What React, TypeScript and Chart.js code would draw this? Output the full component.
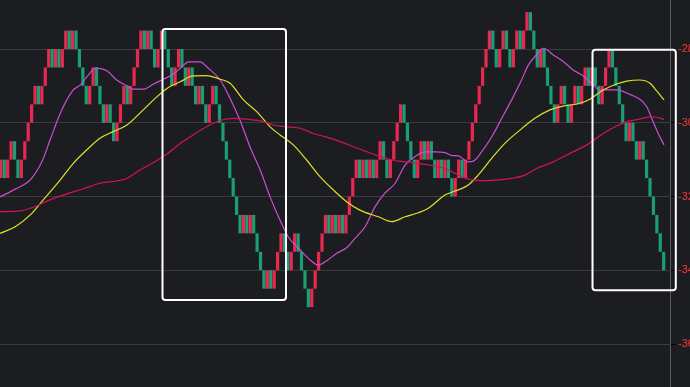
import { useEffect, useRef } from 'react';
import { Chart, registerables } from 'chart.js';

Chart.register(...registerables);

// Renko bricks: open of the first brick, then the close of every brick (box size 0.5)
const brickStart = -31.5;
const brickCloses = [
  -31, -31.5, -31, -30.5, -31, -31.5, -31, -30.5, -30, -29.5,
  -29, -29.5, -29, -28.5, -28, -28.5, -28, -28.5, -28, -27.5,
  -28, -27.5, -28, -28.5, -29, -29.5, -29, -28.5, -29, -29.5,
  -30, -29.5, -30, -30.5, -30, -29.5, -29, -29.5, -29, -28.5,
  -28, -27.5, -28, -27.5, -28, -28.5, -28, -27.5, -28, -28.5,
  -29, -28.5, -28, -28.5, -29, -28.5, -29, -29.5, -29, -29.5,
  -30, -29.5, -29, -29.5, -30, -30.5, -31, -31.5, -32, -32.5,
  -33, -32.5, -33, -32.5, -33, -33.5, -34, -34.5, -34, -34.5,
  -34, -33.5, -33, -33.5, -34, -33.5, -33, -33.5, -34, -34.5,
  -35, -34.5, -34, -33.5, -33, -32.5, -33, -32.5, -33, -32.5,
  -33, -32.5, -32, -31.5, -31, -31.5, -31, -31.5, -31, -31.5,
  -31, -30.5, -31, -31.5, -31, -30.5, -30, -29.5, -30, -30.5,
  -31, -31.5, -31, -30.5, -31, -30.5, -31, -31.5, -31, -31.5,
  -31, -31.5, -32, -31.5, -31, -31.5, -31, -30.5, -30, -29.5,
  -29, -28.5, -28, -27.5, -28, -28.5, -28, -27.5, -28, -28.5,
  -28, -27.5, -28, -27.5, -27, -27.5, -28, -28.5, -28, -28.5,
  -29, -29.5, -30, -29.5, -29, -29.5, -30, -29.5, -29, -29.5,
  -29, -28.5, -29, -28.5, -29, -29.5, -29, -28.5, -28, -28.5,
  -29, -29.5, -30, -30.5, -30, -30.5, -31, -30.5, -31, -31.5,
  -32, -32.5, -33, -33.5, -34,
];

// Moving averages: [brick position, value]
const fastMa: [number, number][] = [
  [-0.25, -32.01], [4.2, -31.8], [8.6, -31.55], [12.0, -31.06], [14.4, -30.47], [17.4, -29.74],
  [21.2, -29.11], [23.2, -28.98], [25.6, -28.71], [27.6, -28.52], [31.0, -28.59], [33.9, -28.84],
  [36.9, -29.0], [38.8, -29.09], [41.7, -29.09], [44.7, -28.95], [47.6, -28.82], [50.5, -28.68],
  [53.0, -28.48], [54.9, -28.35], [58.3, -28.35], [60.7, -28.52], [64.2, -28.84], [67.1, -29.34],
  [70.0, -29.93], [72.9, -30.65], [75.9, -31.28], [78.8, -32.01], [81.7, -32.64], [84.1, -33.09],
  [87.6, -33.45], [90.5, -33.72], [92.9, -33.86], [95.4, -33.74], [98.3, -33.54], [101.2, -33.39],
  [103.7, -33.13], [106.6, -32.82], [109.5, -32.28], [112.4, -31.91], [115.4, -31.64], [118.3, -31.15],
  [121.2, -30.92], [124.1, -30.79], [127.1, -30.79], [130.0, -30.81], [132.0, -30.89], [133.9, -30.9],
  [136.8, -31.06], [138.3, -31.04], [140.7, -30.79], [143.7, -30.38], [146.6, -29.88], [149.5, -29.38],
  [152.4, -28.84], [154.4, -28.43], [156.3, -28.21], [158.8, -27.98], [161.7, -28.16], [164.6, -28.34],
  [167.5, -28.57], [170.5, -28.73], [172.9, -28.93], [175.3, -29.11], [180.2, -29.11], [184.1, -29.23],
  [187.0, -29.36], [189.0, -29.56], [190.9, -29.97], [192.4, -30.29], [194.1, -30.6],
];

const midMa: [number, number][] = [
  [-0.25, -33.0], [4.2, -32.82], [8.6, -32.5], [12.4, -32.09], [17.4, -31.55], [21.2, -31.1],
  [25.1, -30.74], [29.0, -30.42], [32.9, -30.24], [36.9, -30.06], [40.7, -29.74], [44.7, -29.38],
  [48.6, -29.07], [52.5, -28.89], [56.3, -28.73], [60.2, -28.72], [64.2, -28.82], [67.1, -28.93],
  [71.0, -29.38], [74.9, -29.7], [78.8, -30.11], [81.7, -30.33], [85.6, -30.6], [89.5, -31.01],
  [93.4, -31.46], [97.3, -31.82], [101.2, -32.14], [105.1, -32.37], [110.5, -32.55], [114.4, -32.68],
  [118.3, -32.55], [122.2, -32.44], [125.1, -32.32], [130.0, -31.96], [133.9, -31.82], [136.8, -31.69],
  [139.7, -31.42], [143.7, -30.96], [147.5, -30.56], [151.4, -30.24], [156.3, -29.88], [160.7, -29.65],
  [164.6, -29.55], [169.5, -29.47], [172.4, -29.36], [176.3, -29.11], [180.2, -28.95], [183.2, -28.87],
  [187.0, -28.84], [190.0, -28.93], [191.9, -29.13], [194.1, -29.38],
];

const slowMa: [number, number][] = [
  [-0.25, -32.41], [5.7, -32.39], [9.5, -32.29], [14.4, -32.09], [19.3, -31.93], [24.2, -31.79],
  [29.0, -31.64], [33.9, -31.58], [36.9, -31.51], [40.7, -31.28], [44.7, -31.08], [48.6, -30.85],
  [52.5, -30.56], [56.3, -30.33], [60.2, -30.11], [64.2, -29.94], [68.1, -29.88], [72.0, -29.9],
  [75.9, -29.95], [79.8, -30.06], [83.7, -30.11], [87.6, -30.15], [91.5, -30.29], [95.4, -30.39],
  [99.3, -30.51], [103.2, -30.65], [106.6, -30.77], [110.5, -30.9], [114.4, -31.01], [118.3, -31.06],
  [122.2, -31.1], [126.1, -31.16], [130.0, -31.24], [133.9, -31.42], [137.8, -31.55], [141.7, -31.57],
  [145.6, -31.55], [149.5, -31.51], [153.4, -31.42], [156.8, -31.24], [161.7, -31.06], [166.6, -30.83],
  [171.5, -30.6], [176.3, -30.29], [180.2, -30.09], [183.2, -29.97], [187.0, -29.9], [190.0, -29.84],
  [191.9, -29.85], [194.1, -29.91],
];

const yTickValues = [-36, -34, -32, -30, -28];
const yRange = [-37.166, -26.671];
const xRange = [-0.25, 195.85];

// Highlight frames in data space: [first brick pos, last brick pos, top value, bottom value]
const highlightFrames: [number, number, number, number][] = [
  [47.31, 83.46, -27.458, -34.807],
  [173.17, 197.55, -28.022, -34.541],
];

const BG = '#1c1d21';
const UP = 'rgb(233, 39, 79)';
const DOWN = 'rgb(26, 158, 118)';

export default function App() {
  const ref = useRef<HTMLCanvasElement | null>(null);

  useEffect(() => {
    if (!ref.current) return;
    const opens = brickCloses.map((_, i) => (i === 0 ? brickStart : brickCloses[i - 1]));
    const bars = brickCloses.map((c, i) => ({ x: i, y: [Math.min(opens[i], c), Math.max(opens[i], c)] }));
    const barColors = brickCloses.map((c, i) => (c > opens[i] ? UP : DOWN));
    const toPts = (arr: [number, number][]) => arr.map(([x, y]) => ({ x, y }));

    const framePlugin = {
      id: 'frames',
      afterDraw(chart: any) {
        const { ctx } = chart;
        const xs = chart.scales.x;
        const ys = chart.scales.y;
        ctx.save();
        ctx.strokeStyle = '#ffffff';
        ctx.lineWidth = 2;
        highlightFrames.forEach(([a, b, t, btm]) => {
          const l = xs.getPixelForValue(a);
          const r = xs.getPixelForValue(b);
          const top = ys.getPixelForValue(t);
          const bot = ys.getPixelForValue(btm);
          ctx.beginPath();
          (ctx as any).roundRect(l, top, r - l, bot - top, 3);
          ctx.stroke();
        });
        ctx.restore();
      },
    };

    const lineDs = (data: [number, number][], color: string) => ({
      type: 'line' as const,
      data: toPts(data),
      borderColor: color,
      borderWidth: 1.2,
      pointRadius: 0,
      cubicInterpolationMode: 'monotone' as const,
      fill: false,
      order: 0,
    });

    const chart = new Chart(ref.current, {
      type: 'bar',
      data: {
        datasets: [
          {
            type: 'bar',
            data: bars as any,
            backgroundColor: barColors,
            borderWidth: 0,
            barPercentage: 0.94,
            categoryPercentage: 1,
            order: 5,
          } as any,
          lineDs(slowMa, 'rgb(212, 18, 88)'),
          lineDs(midMa, 'rgb(224, 224, 40)'),
          lineDs(fastMa, 'rgb(205, 77, 210)'),
        ],
      },
      options: {
        animation: false,
        responsive: false,
        maintainAspectRatio: false,
        devicePixelRatio: 1,
        layout: { padding: 0 },
        plugins: { legend: { display: false }, tooltip: { enabled: false } },
        scales: {
          x: {
            type: 'linear',
            min: xRange[0],
            max: xRange[1],
            offset: false,
            display: false,
            afterBuildTicks: (s: any) => {
              s.ticks = [];
            },
          },
          y: {
            position: 'right',
            min: yRange[0],
            max: yRange[1],
            afterBuildTicks: (s: any) => {
              s.ticks = yTickValues.map((v) => ({ value: v }));
            },
            afterFit: (s: any) => {
              s.width = 30;
              s.paddingTop = 0;
              s.paddingBottom = 0;
            },
            grid: {
              color: 'rgb(58, 59, 64)',
              lineWidth: 1,
              tickColor: '#000000',
              tickLength: 5,
              drawTicks: true,
            },
            border: { color: 'rgb(90, 91, 96)', width: 1 },
            ticks: {
              color: '#ff3434',
              padding: 3,
              font: { family: 'Arial', size: 11 },
            },
          },
        },
      } as any,
      plugins: [framePlugin],
    });
    return () => chart.destroy();
  }, []);

  return (
    <div
      style={{
        position: 'fixed',
        left: 0,
        top: 0,
        width: 690,
        height: 387,
        overflow: 'hidden',
        background: BG,
      }}
    >
      <canvas ref={ref} width={700} height={387} style={{ width: 700, height: 387, display: 'block' }} />
    </div>
  );
}
